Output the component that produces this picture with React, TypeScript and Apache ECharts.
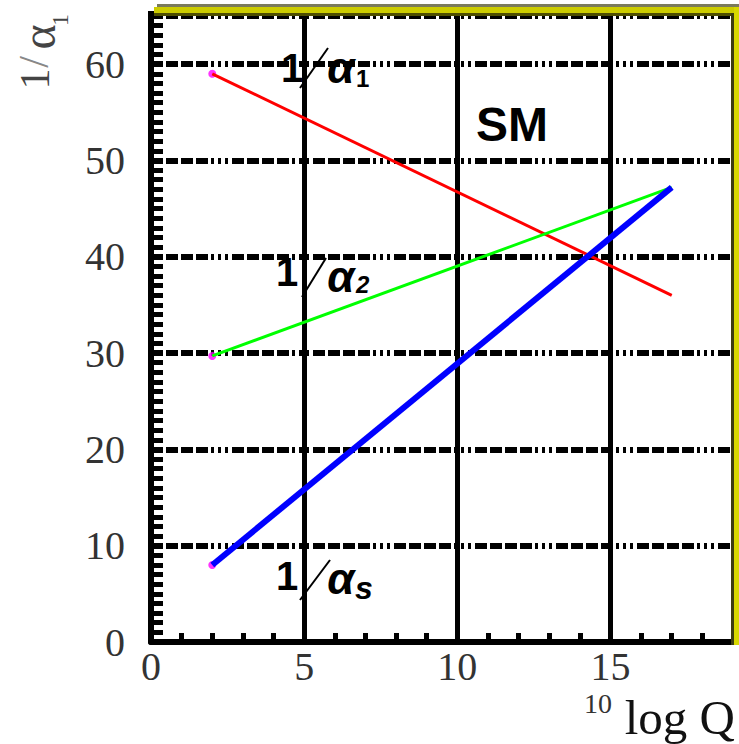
import React, { useEffect, useRef } from 'react';
import * as echarts from 'echarts';

// ---- data ----
const logQ = [2, 17];
const invAlpha1 = [59.0, 36.0];
const invAlpha2 = [29.7, 47.2];
const invAlphaS = [8.0, 47.2];
const xTickLabels = [0, 5, 10, 15];
const yTickLabels = [0, 10, 20, 30, 40, 50, 60];
const lineNames = ['1/α1', '1/α2', '1/αs'];
const lineColors = ['#ff0000', '#00ff00', '#0000ff'];
const lineWidths = [3, 3, 6];

const SERIF = '"Liberation Serif", "DejaVu Serif", serif';
const SANS = '"Liberation Sans", Arial, sans-serif';

function alphaLabel(x1: number, cy: number, slash: number[], ax: number, ay: number,
  sub: string, sx: number, sy: number, subFont: string) {
  return [
    { type: 'text', x: x1, y: cy, z: 100, style: { text: '1', font: `bold 40px ${SANS}`, fill: '#000', align: 'left', verticalAlign: 'middle' } },
    { type: 'line', z: 100, shape: { x1: slash[0], y1: slash[1], x2: slash[2], y2: slash[3] }, style: { stroke: '#000', lineWidth: 2 } },
    { type: 'text', x: ax, y: ay, z: 100, style: { text: 'α', font: `italic bold 44px ${SANS}`, fill: '#000', align: 'center', verticalAlign: 'middle' } },
    { type: 'text', x: sx, y: sy, z: 100, style: { text: sub, font: subFont, fill: '#000', align: 'left', verticalAlign: 'middle' } },
  ];
}

export default function App() {
  const ref = useRef<HTMLDivElement>(null);
  useEffect(() => {
    if (!ref.current) return;
    const chart = echarts.init(ref.current, null, { renderer: 'svg' });
    const lineData = [invAlpha1, invAlpha2, invAlphaS];
    const series: any[] = lineData.map((vals, i) => ({
      name: lineNames[i],
      type: 'line',
      xAxisIndex: 0,
      yAxisIndex: 0,
      data: logQ.map((q, j) => [q, vals[j]]),
      showSymbol: false,
      symbol: 'none',
      lineStyle: { color: lineColors[i], width: lineWidths[i] },
      z: 3,
    }));
    series.push({
      type: 'scatter',
      xAxisIndex: 0,
      yAxisIndex: 0,
      data: lineData.map((vals) => [logQ[0], vals[0]]),
      symbol: 'circle',
      symbolSize: 8,
      itemStyle: { color: '#ff00ff' },
      z: 2,
    });

    const graphic: any[] = [
      // top border
      { type: 'rect', shape: { x: 157, y: 4, width: 582, height: 3 }, style: { fill: '#7a7a5c' }, z: 50 },
      { type: 'rect', shape: { x: 154, y: 7, width: 585, height: 6 }, style: { fill: '#cccc00' }, z: 50 },
      { type: 'rect', shape: { x: 151, y: 13, width: 582, height: 3 }, style: { fill: '#4d4d00' }, z: 50 },
      // right border
      { type: 'rect', shape: { x: 731, y: 13, width: 3, height: 632 }, style: { fill: '#3d3d10' }, z: 50 },
      { type: 'rect', shape: { x: 734, y: 7, width: 5, height: 638 }, style: { fill: '#d8d800' }, z: 50 },
      // y axis top overhang
      { type: 'rect', shape: { x: 148, y: 11, width: 6, height: 6 }, style: { fill: '#000' }, z: 50 },
      // y axis name 1/α1 (rotated)
      { type: 'text', x: 35, y: 79, rotation: Math.PI / 2, style: { text: '1', font: `42px ${SERIF}`, fill: '#444', align: 'center', verticalAlign: 'middle' } },
      { type: 'text', x: 34, y: 62, rotation: Math.PI / 2, style: { text: '/', font: `42px ${SERIF}`, fill: '#888', align: 'center', verticalAlign: 'middle' } },
      { type: 'text', x: 38, y: 37, rotation: Math.PI / 2, style: { text: 'α', font: `48px ${SERIF}`, fill: '#444', align: 'center', verticalAlign: 'middle' } },
      { type: 'text', x: 60, y: 20, rotation: Math.PI / 2, style: { text: '1', font: `24px ${SERIF}`, fill: '#444', align: 'center', verticalAlign: 'middle' } },
      // x axis name 10log Q
      { type: 'text', x: 598, y: 703, style: { text: '10', font: `28px ${SERIF}`, fill: '#333', align: 'center', verticalAlign: 'middle' } },
      { type: 'text', x: 735, y: 717, style: { text: 'log Q', font: `49px ${SERIF}`, fill: '#111', align: 'right', verticalAlign: 'middle' } },
      // SM
      { type: 'text', x: 476, y: 124, z: 100, style: { text: 'SM', font: `bold 48px ${SANS}`, fill: '#000', align: 'left', verticalAlign: 'middle' } },
      ...alphaLabel(281, 68, [300, 88, 328, 48], 341, 67, '1', 356, 78, `bold 24px ${SANS}`),
      ...alphaLabel(276, 272, [302, 297, 326, 258], 341, 276, '2', 356, 284, `bold italic 24px ${SANS}`),
      ...alphaLabel(276, 576, [300, 600, 330, 560], 341, 578, 's', 355, 588, `bold italic 32px ${SANS}`),
    ];

    const option: any = {
      animation: false,
      backgroundColor: '#ffffff',
      grid: { left: 151, right: 6, top: 16, bottom: 102, containLabel: false, outerBoundsMode: 'none' },
      xAxis: [
        {
          type: 'value', min: 0, max: 19, interval: 5, position: 'bottom',
          axisLine: { show: true, onZero: false, lineStyle: { color: '#000', width: 6 } },
          axisTick: { show: false },
          axisLabel: {
            show: true, margin: 7, fontSize: 40, lineHeight: 34, fontFamily: SERIF, color: '#333',
            showMaxLabel: false,
            formatter: (v: number) => (xTickLabels.includes(v) ? String(v) : ''),
          },
          splitLine: { show: true, lineStyle: { color: '#000', width: 5, type: 'solid' } },
        },
        {
          type: 'value', min: 0, max: 19, interval: 1, position: 'bottom',
          axisLine: { show: false },
          axisLabel: { show: false },
          splitLine: { show: false },
          axisTick: { show: true, inside: true, length: 9, lineStyle: { color: '#000', width: 5 } },
        },
      ],
      yAxis: [
        {
          type: 'value', min: 0, max: 65, interval: 10, position: 'left',
          axisLine: { show: true, onZero: false, lineStyle: { color: '#000', width: 6 } },
          axisTick: { show: false },
          axisLabel: {
            show: true, margin: 26, fontSize: 40, fontFamily: SERIF, color: '#333',
            showMaxLabel: false,
            formatter: (v: number) => (yTickLabels.includes(v) ? String(v) : ''),
          },
          splitLine: {
            show: true,
            lineStyle: { color: '#000', width: 6, type: [12, 3, 12, 3, 12, 3, 12, 3, 3, 4, 3, 4, 3, 4] },
          },
        },
        {
          type: 'value', min: 0, max: 65, interval: 1, position: 'left',
          axisLine: { show: false },
          axisLabel: { show: false },
          splitLine: { show: false },
          axisTick: { show: true, inside: true, length: 12, lineStyle: { color: '#000', width: 5 } },
        },
      ],
      series,
      graphic,
    };
    chart.setOption(option);
    return () => chart.dispose();
  }, []);
  return <div ref={ref} style={{ position: 'fixed', left: 0, top: 0, width: 739, height: 744 }} />;
}
